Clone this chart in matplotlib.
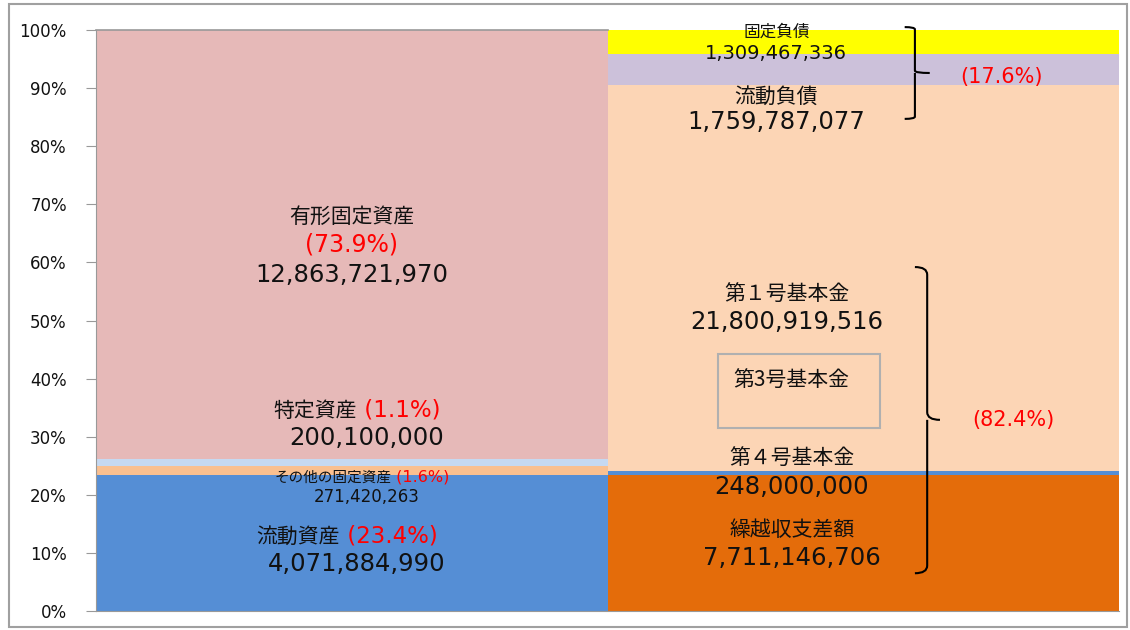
import matplotlib
matplotlib.use("Agg")
import matplotlib.pyplot as plt
from matplotlib.path import Path
from matplotlib.patches import PathPatch, Rectangle
from matplotlib.offsetbox import TextArea, HPacker, AnnotationBbox

plt.rcParams["font.family"] = ["DejaVu Sans", "Noto Sans CJK JP"]
JP = ["Noto Sans CJK JP", "DejaVu Sans"]
LAT = ["DejaVu Sans", "Noto Sans CJK JP"]

# bar heights (percent of total)
assets = ["流動資産", "その他の固定資産", "特定資産", "有形固定資産"]
asset_pct = [23.4, 1.6, 1.1, 73.9]
asset_colors = ["#558ED5", "#FAC090", "#C6D9F1", "#E6B9B8"]

funds = ["繰越収支差額", "第４号基本金", "第１号基本金", "流動負債", "固定負債"]
fund_pct = [23.4, 0.7, 66.4, 5.4, 4.1]
fund_colors = ["#E46C0A", "#558ED5", "#FCD5B5", "#CCC1DA", "#FFFF00"]

yticks = [0, 10, 20, 30, 40, 50, 60, 70, 80, 90, 100]

fig = plt.figure(figsize=(11.3, 6.3), dpi=100)
ax = fig.add_axes([96 / 1130, 19 / 630, 1023 / 1130, 581 / 630])

bottom = 0
for v, c in zip(asset_pct, asset_colors):
    ax.bar(0, v, width=1.0, bottom=bottom, color=c, linewidth=0)
    bottom += v
bottom = 0
for v, c in zip(fund_pct, fund_colors):
    ax.bar(1, v, width=1.0, bottom=bottom, color=c, linewidth=0)
    bottom += v

ax.set_xlim(-0.5, 1.5)
ax.set_ylim(0, 100)
ax.set_yticks(yticks)
ax.set_yticklabels([f"{t}%" for t in yticks], fontsize=12, color="#111111")
ax.set_xticks([])
for s in ["top", "right"]:
    ax.spines[s].set_visible(False)
for s in ["left", "bottom"]:
    ax.spines[s].set_color("#999999")
ax.tick_params(axis="y", length=7, color="#999999", pad=14)
ax.plot([-0.5, 0.5], [100, 100], color="#999999", lw=1.2, clip_on=False)

INK = "#111111"


def label(x, y, name, pct, size, psize):
    boxes = [TextArea(name, textprops=dict(color=INK, fontsize=size, family=JP)),
             TextArea(f" ({pct})", textprops=dict(color="red", fontsize=psize,
                                                   family=LAT))]
    pack = HPacker(children=boxes, align="baseline", pad=0, sep=0)
    ab = AnnotationBbox(pack, (x, y), frameon=False, box_alignment=(0.5, 0.5),
                        pad=0)
    ax.add_artist(ab)


def txt(x, y, s, size, color=INK, jp=False):
    ax.text(x, y, s, ha="center", va="center", fontsize=size, color=color,
            family=JP if jp else LAT)


# left bar labels
txt(0.0, 67.8, "有形固定資産", 15, jp=True)
txt(0.0, 63.0, "(73.9%)", 17, "red")
txt(0.0, 57.8, "12,863,721,970", 17.5)
label(0.01, 34.6, "特定資産", "1.1%", 15, 16.5)
txt(0.03, 29.8, "200,100,000", 17.5)
label(0.02, 23.1, "その他の固定資産", "1.6%", 10.5, 11.5)
txt(0.03, 19.6, "271,420,263", 12)
label(-0.01, 12.9, "流動資産", "23.4%", 15, 16.5)
txt(0.01, 8.1, "4,071,884,990", 17.5)

# right bar labels
txt(0.83, 99.7, "固定負債", 12, jp=True)
txt(0.83, 96.0, "1,309,467,336", 14)
txt(0.83, 88.5, "流動負債", 15, jp=True)
txt(0.83, 84.2, "1,759,787,077", 17.5)
txt(0.85, 54.6, "第１号基本金", 15, jp=True)
txt(0.85, 49.7, "21,800,919,516", 17.5)
txt(0.86, 39.8, "第3号基本金", 15, jp=True)
txt(0.86, 26.3, "第４号基本金", 15, jp=True)
txt(0.86, 21.3, "248,000,000", 17.5)
txt(0.86, 13.9, "繰越収支差額", 15, jp=True)
txt(0.86, 9.1, "7,711,146,706", 17.5)
ax.add_patch(Rectangle((0.717, 31.5), 0.316, 12.7, fill=False,
                       edgecolor="#B0B0B0", lw=1.5))

txt(1.271, 91.9, "(17.6%)", 15, "red")
txt(1.293, 32.9, "(82.4%)", 15, "red")


def brace(xv, xe, xt, y0, ym, y1):
    d = (y0 - y1) * 0.025
    verts = [(xe, y0), (xv, y0), (xv, y0 - d), (xv, ym + d), (xv, ym), (xt, ym),
             (xv, ym), (xv, ym - d), (xv, y1 + d), (xv, y1), (xe, y1)]
    codes = [Path.MOVETO, Path.CURVE3, Path.CURVE3, Path.LINETO, Path.CURVE3,
             Path.LINETO, Path.MOVETO, Path.CURVE3, Path.LINETO, Path.CURVE3,
             Path.CURVE3]
    ax.add_patch(PathPatch(Path(verts, codes), fill=False, lw=1.5,
                           edgecolor="black", clip_on=False))


brace(1.101, 1.081, 1.130, 100.5, 92.6, 84.7)
brace(1.125, 1.101, 1.150, 59.2, 32.9, 6.5)

fig.patches.append(Rectangle((9 / 1130, 3 / 630), 1118 / 1130, 623 / 630,
                             transform=fig.transFigure, fill=False,
                             edgecolor="#A0A0A0", lw=1.5))

fig.savefig("out.png", dpi=100)
